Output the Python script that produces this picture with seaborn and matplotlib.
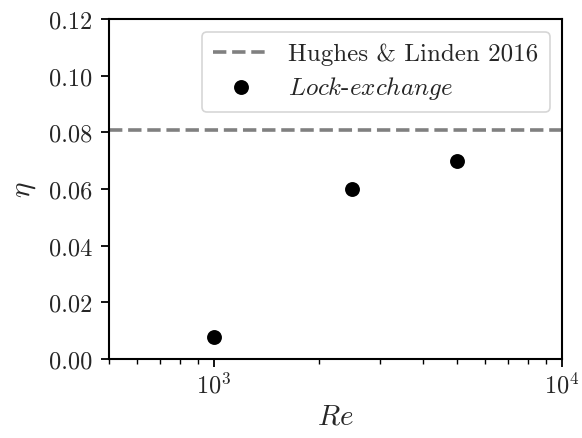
import matplotlib
matplotlib.use("Agg")
import matplotlib.pyplot as plt
import seaborn as sns
import pandas as pd

re_values = [1000, 2500, 5000]
eta_values = [0.0078, 0.060, 0.070]
hughes_linden = 0.081
series_labels = ["Hughes & Linden 2016", r"$\mathit{Lock}$-$\mathit{exchange}$"]

sns.set_theme(style="ticks")
plt.rcParams["font.family"] = ["cmr10", "DejaVu Serif"]
plt.rcParams["mathtext.fontset"] = "cm"
plt.rcParams["axes.unicode_minus"] = False
plt.rcParams["axes.formatter.use_mathtext"] = True

df = pd.DataFrame({"Re": re_values, "eta": eta_values})

fig = plt.figure(figsize=(5.82, 4.39), dpi=100)
ax = fig.add_axes([109/582, 1 - 360/439, (562-109)/582, (360-20)/439])

ax.axhline(hughes_linden, color="grey", ls="--", lw=2.6, label=series_labels[0], zorder=1)
sns.scatterplot(data=df, x="Re", y="eta", ax=ax, color="black", s=115, edgecolor="black",
                linewidth=0, label=series_labels[1], zorder=3)

ax.set_xscale("log")
ax.set_xlim(500, 10000)
ax.set_ylim(0, 0.12)
yt = [0.0, 0.02, 0.04, 0.06, 0.08, 0.10, 0.12]
ax.set_yticks(yt)
ax.set_yticklabels([f"{v:.2f}" for v in yt])
ax.set_xlabel(r"$Re$", fontsize=21, labelpad=4)
ax.set_ylabel(r"$\eta$", fontsize=21, labelpad=8)
ax.tick_params(axis="both", which="major", labelsize=17.5, length=6, width=1.3, color="black")
ax.tick_params(axis="y", which="major", pad=6)
ax.tick_params(axis="x", which="minor", length=3.5, width=1.0, color="black")
for s in ax.spines.values():
    s.set_linewidth(1.5)
    s.set_color("black")

leg = ax.legend(loc="upper right", fontsize=18, frameon=True, handlelength=2.2, borderpad=0.45,
                labelspacing=0.35, handletextpad=0.8, borderaxespad=0.5)
leg.get_frame().set_edgecolor("0.8")
leg.get_frame().set_linewidth(1.2)

fig.savefig("out.png", dpi=100)
